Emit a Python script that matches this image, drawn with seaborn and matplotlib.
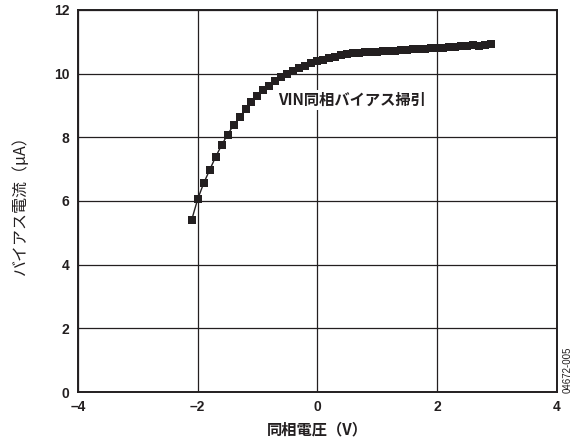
import matplotlib
matplotlib.use("Agg")
import matplotlib.pyplot as plt
import seaborn as sns
import pandas as pd

# Common-mode voltage sweep (V) and measured input bias current (uA)
vcm = [-2.1, -2.0, -1.9, -1.8, -1.7, -1.6, -1.5, -1.4, -1.3, -1.2,
       -1.1, -1.0, -0.9, -0.8, -0.7, -0.6, -0.5, -0.4, -0.3, -0.2,
       -0.1, 0.0, 0.1, 0.2, 0.3, 0.4, 0.5, 0.6, 0.7, 0.8,
       0.9, 1.0, 1.1, 1.2, 1.3, 1.4, 1.5, 1.6, 1.7, 1.8,
       1.9, 2.0, 2.1, 2.2, 2.3, 2.4, 2.5, 2.6, 2.7, 2.8, 2.9]
ibias = [5.40, 6.05, 6.55, 6.97, 7.38, 7.75, 8.08, 8.38, 8.62, 8.88,
         9.12, 9.28, 9.47, 9.62, 9.77, 9.90, 10.00, 10.08, 10.16, 10.24,
         10.33, 10.40, 10.44, 10.48, 10.53, 10.57, 10.60, 10.63, 10.65, 10.67,
         10.68, 10.69, 10.70, 10.71, 10.72, 10.74, 10.75, 10.77, 10.76, 10.78,
         10.79, 10.80, 10.81, 10.82, 10.83, 10.85, 10.87, 10.90, 10.88, 10.91, 10.92]

xticks = [-4, -2, 0, 2, 4]
xticklabels = ["–4", "–2", "0", "2", "4"]
yticks = [0, 2, 4, 6, 8, 10, 12]

df = pd.DataFrame({"vcm": vcm, "ibias": ibias})

sns.set_theme(style="white")
plt.rcParams["font.family"] = ["Liberation Sans", "Noto Sans CJK JP", "DejaVu Sans"]
jp = ["Noto Sans CJK JP", "DejaVu Sans"]

fig = plt.figure(figsize=(5.77, 4.48), dpi=100)
ax = fig.add_axes([0.135, 0.125, 0.830, 0.853])

sns.lineplot(data=df, x="vcm", y="ibias", ax=ax, color="#231f20",
             linewidth=1.0, marker="s", markersize=5.8,
             markeredgewidth=0, markerfacecolor="#231f20", zorder=3)

ax.set_xlim(-4, 4)
ax.set_ylim(0, 12)
ax.set_xticks(xticks)
ax.set_xticklabels(xticklabels)
ax.set_yticks(yticks)
ax.tick_params(axis="both", length=0, labelsize=10, pad=6, colors="#231f20")
for lab in ax.get_xticklabels() + ax.get_yticklabels():
    lab.set_fontweight("bold")

ax.grid(True, color="#231f20", linewidth=0.9)
for sp in ax.spines.values():
    sp.set_color("#231f20")
    sp.set_linewidth(1.4)

ax.set_xlabel("同相電圧（V）", family=jp, fontsize=11, fontweight="bold",
              color="#231f20", labelpad=5)
ax.set_ylabel("バイアス電流（μA）", family=jp, fontsize=11.5, color="#231f20",
              labelpad=18)

ax.text(0.58, 9.17, "VIN同相バイアス掃引", family=jp, fontsize=11,
        fontweight="bold", color="#231f20", ha="center", va="center",
        bbox=dict(facecolor="white", edgecolor="none", pad=1.5), zorder=4)

fig.text(0.984, 0.175, "04672-005", rotation=90, fontsize=7,
         color="#231f20", ha="center", va="center")

fig.savefig("out.png", dpi=100)
